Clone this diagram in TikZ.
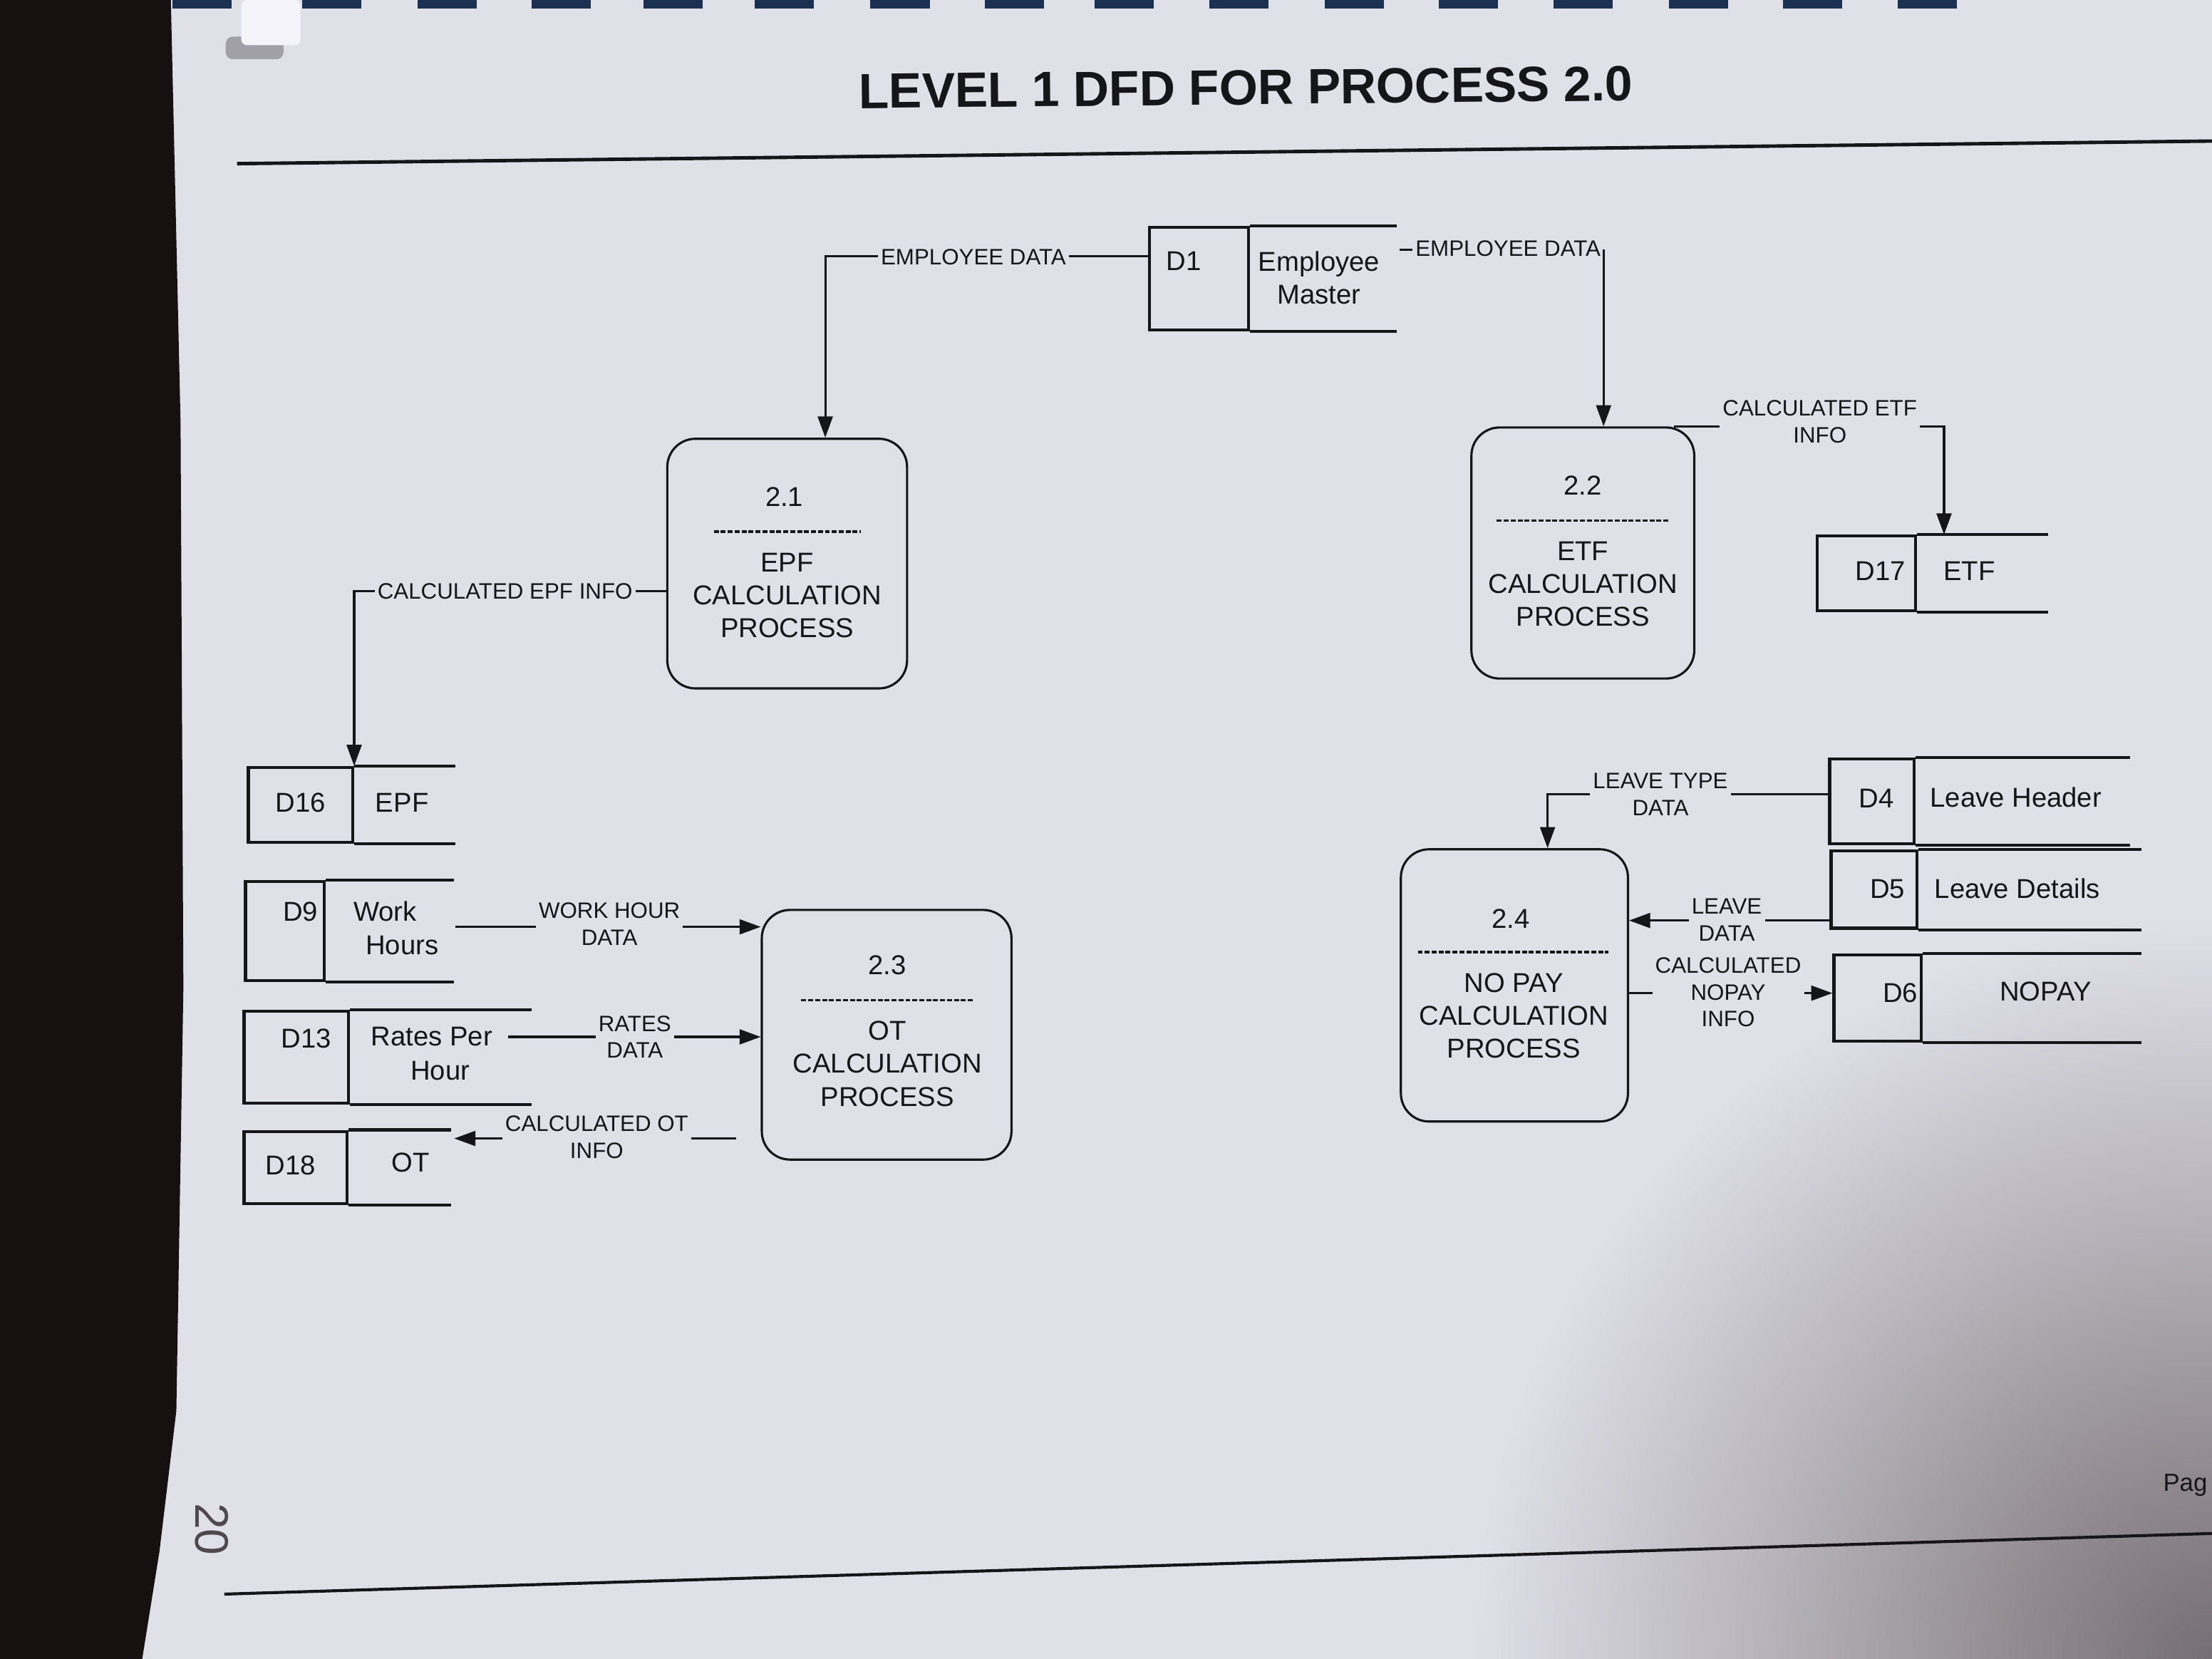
\documentclass[tikz,border=0pt]{standalone}
\usepackage{fontspec}
\setmainfont{Liberation Sans}
\usetikzlibrary{arrows.meta}
\definecolor{pagecol}{RGB}{224,224,232}
\definecolor{shadecol}{RGB}{118,110,114}
\definecolor{deskcol}{RGB}{22,16,16}
\definecolor{ringcol}{RGB}{28,48,82}
\definecolor{inkcol}{RGB}{22,22,26}
\definecolor{pencil}{RGB}{80,72,80}
\definecolor{tabcol}{RGB}{244,244,250}
\definecolor{tabshadow}{RGB}{120,116,124}
\begin{document}
\begin{tikzpicture}[x=0.02cm,y=-0.02cm,
  proc/.style={draw=inkcol, line width=0.9pt, rounded corners=0.4cm, inner sep=0pt},
  store/.style={draw=inkcol, line width=1.2pt, inner sep=0pt},
  storeline/.style={draw=inkcol, line width=1.2pt},
  flowline/.style={draw=inkcol, line width=0.9pt},
  flowarrow/.style={flowline, -{Triangle[length=0.3cm,width=0.21cm]}},
  lbl/.style={font=\fontsize{9}{10.8}\selectfont, align=center, inner sep=1pt, text=inkcol},
  ptext/.style={font=\fontsize{11}{13.3}\selectfont, align=center, inner sep=0pt, text=inkcol},
  stext/.style={font=\fontsize{11}{13.2}\selectfont, align=center, inner sep=0pt, text=inkcol},
  dashsep/.style={draw=inkcol, line width=1.1pt, dash pattern=on 2pt off 0.8pt},
  ruleline/.style={draw=inkcol, line width=1.4pt}]
\useasboundingbox (0,0) rectangle (1568,1176);
% ---------- page and background ----------
\fill[pagecol] (0,0) rectangle (1568,1176);
\begin{scope}
  \clip (0,0) rectangle (1568,1176);
  \shade[inner color=shadecol, outer color=pagecol] (1568,1176) circle (10.5cm);
\end{scope}
\fill[deskcol] (0,-5) -- (121,-5) -- (128,300) -- (130,700) -- (125,1000) -- (113,1100) -- (100,1181) -- (0,1181) -- cycle;
\foreach \x in {122,214,296,377,456,535,617,698,776,857,939,1020,1101,1183,1264,1345}
  \fill[ringcol] (\x,0) rectangle ++(42,6);
\fill[tabshadow, opacity=0.6, rounded corners=0.1cm] (160,26) rectangle (201,42);
\fill[tabcol, rounded corners=0.08cm] (171,0) rectangle (213,32);
% ---------- title and rules ----------
\node[font=\fontsize{20}{24}\selectfont\bfseries, text=inkcol, rotate=0.6] (title) at (883,62) {LEVEL 1 DFD FOR PROCESS 2.0};
\draw[ruleline] (168,116) -- (1568,100);
\draw[ruleline, line width=1.2pt] (159,1130) -- (1568,1087);
\node[anchor=east, font=\fontsize{10}{12}\selectfont, text=inkcol, inner sep=0pt] (pag) at (1565,1053) {Pag};
\node[rotate=-90, font=\fontsize{19}{22}\selectfont, text=pencil] (pnum) at (150,1084) {20};
% ---------- processes ----------
\node[proc, minimum width=3.4cm, minimum height=3.54cm] (p1) at (558,399.5) {};
\node[ptext] (p1n) at (556,352) {2.1};
\draw[dashsep] (506,377) -- (610,377);
\node[ptext] (p1t) at (558,422) {EPF\\CALCULATION\\PROCESS};

\node[proc, minimum width=3.16cm, minimum height=3.56cm] (p2) at (1122,392) {};
\node[ptext] (p2n) at (1122,344) {2.2};
\draw[dashsep] (1061,369) -- (1183,369);
\node[ptext] (p2t) at (1122,414) {ETF\\CALCULATION\\PROCESS};

\node[proc, minimum width=3.54cm, minimum height=3.54cm] (p3) at (628.5,733.5) {};
\node[ptext] (p3n) at (629,684) {2.3};
\draw[dashsep] (568,709) -- (690,709);
\node[ptext] (p3t) at (629,754) {OT\\CALCULATION\\PROCESS};

\node[proc, minimum width=3.22cm, minimum height=3.86cm] (p4) at (1073.5,698.5) {};
\node[ptext] (p4n) at (1071,651) {2.4};
\draw[dashsep] (1005,675) -- (1140,675);
\node[ptext] (p4t) at (1073,720) {NO PAY\\CALCULATION\\PROCESS};
% ---------- data stores ----------
\node[store, minimum width=1.4cm, minimum height=1.46cm] (d1) at (850,197.5) {};
\coordinate (d1end) at (990,0);
\draw[storeline] (d1.north east) -- (d1.north east -| d1end);
\draw[storeline] (d1.south east) -- (d1.south east -| d1end);
\node[stext] (d1id) at (839,185) {D1};
\node[stext] (d1name) at (935,197) {Employee\\Master};

\node[store, minimum width=1.4cm, minimum height=1.06cm] (d17) at (1323,406.5) {};
\coordinate (d17end) at (1452,0);
\draw[storeline] (d17.north east) -- (d17.north east -| d17end);
\draw[storeline] (d17.south east) -- (d17.south east -| d17end);
\node[stext] (d17id) at (1333,405) {D17};
\node[stext] (d17name) at (1396,405) {ETF};

\node[store, minimum width=1.48cm, minimum height=1.06cm] (d16) at (213,570.5) {};
\coordinate (d16end) at (323,0);
\draw[storeline] (d16.north east) -- (d16.north east -| d16end);
\draw[storeline] (d16.south east) -- (d16.south east -| d16end);
\node[stext] (d16id) at (213,569) {D16};
\node[stext] (d16name) at (285,569) {EPF};

\node[store, minimum width=1.12cm, minimum height=1.4cm] (d9) at (202,660) {};
\coordinate (d9end) at (322,0);
\draw[storeline] (d9.north east) -- (d9.north east -| d9end);
\draw[storeline] (d9.south east) -- (d9.south east -| d9end);
\node[stext] (d9id) at (213,646) {D9};
\node[stext] (d9namea) at (273,646) {Work};
\node[stext] (d9nameb) at (285,670) {Hours};

\node[store, minimum width=1.48cm, minimum height=1.3cm] (d13) at (210,749.5) {};
\coordinate (d13end) at (377,0);
\draw[storeline] (d13.north east) -- (d13.north east -| d13end);
\draw[storeline] (d13.south east) -- (d13.south east -| d13end);
\node[stext] (d13id) at (217,736) {D13};
\node[stext] (d13namea) at (306,735) {Rates Per};
\node[stext] (d13nameb) at (312,759) {Hour};

\node[store, minimum width=1.46cm, minimum height=1.02cm] (d18) at (209.5,827.5) {};
\coordinate (d18end) at (320,0);
\draw[storeline] (d18.north east) -- (d18.north east -| d18end);
\draw[storeline] (d18.south east) -- (d18.south east -| d18end);
\node[stext] (d18id) at (206,826) {D18};
\node[stext] (d18name) at (291,824) {OT};

\node[store, minimum width=1.2cm, minimum height=1.2cm] (d4) at (1327,568) {};
\coordinate (d4end) at (1510,0);
\draw[storeline] (d4.north east) -- (d4.north east -| d4end);
\draw[storeline] (d4.south east) -- (d4.south east -| d4end);
\node[stext] (d4id) at (1330,566) {D4};
\node[stext] (d4name) at (1429,565) {Leave Header};

\node[store, minimum width=1.22cm, minimum height=1.1cm] (d5) at (1328.5,630.5) {};
\coordinate (d5end) at (1518,0);
\draw[storeline] (d5.north east) -- (d5.north east -| d5end);
\draw[storeline] (d5.south east) -- (d5.south east -| d5end);
\node[stext] (d5id) at (1338,630) {D5};
\node[stext] (d5name) at (1430,630) {Leave Details};

\node[store, minimum width=1.24cm, minimum height=1.22cm] (d6) at (1331,707.5) {};
\coordinate (d6end) at (1518,0);
\draw[storeline] (d6.north east) -- (d6.north east -| d6end);
\draw[storeline] (d6.south east) -- (d6.south east -| d6end);
\node[stext] (d6id) at (1347,704) {D6};
\node[stext] (d6name) at (1450,703) {NOPAY};
% ---------- flow labels ----------
\node[lbl] (l1) at (690,182) {EMPLOYEE DATA};
\node[lbl] (l2) at (1069,176) {EMPLOYEE DATA};
\node[lbl] (l3) at (1290,299) {CALCULATED ETF\\INFO};
\node[lbl] (l4) at (358,419) {CALCULATED EPF INFO};
\node[lbl] (l5) at (432,655) {WORK HOUR\\DATA};
\node[lbl] (l6) at (450,735) {RATES\\DATA};
\node[lbl] (l7) at (423,806) {CALCULATED OT\\INFO};
\node[lbl] (l8) at (1177,563) {LEAVE TYPE\\DATA};
\node[lbl] (l9) at (1224,652) {LEAVE\\DATA};
\node[lbl] (l10) at (1225,703.5) {CALCULATED\\NOPAY\\INFO};
% ---------- flows ----------
% D1 -> 2.1
\coordinate (d1w) at ([yshift=0.32cm]d1.west);
\draw[flowline] (d1w) -- (l1.east |- d1w);
\draw[flowarrow] (l1.west |- d1w) -| ([xshift=0.54cm]p1.north);
% D1 -> 2.2
\coordinate (d1r) at (992,177);
\draw[flowline] (d1r) -- (l2.west |- d1r);
\draw[flowarrow] (l2.east |- d1r) -- (l2.east |- p2.north);
% 2.2 -> D17
\coordinate (p2c) at ([xshift=-0.3cm]p2.north east);
\draw[flowline] (p2c) -- (l3.west |- p2c);
\draw[flowarrow] (l3.east |- p2c) -| ([xshift=0.38cm]d17.north east);
% 2.1 -> D16
\coordinate (p1w) at ([yshift=-0.39cm]p1.west);
\draw[flowline] (p1w) -- (l4.east |- p1w);
\draw[flowarrow] (l4.west |- p1w) -| (d16.north east);
% D9 -> 2.3
\coordinate (d9o) at (323,657);
\draw[flowline] (d9o) -- (l5.west |- d9o);
\draw[flowarrow] (l5.east |- d9o) -- (p3.west |- d9o);
% D13 -> 2.3
\coordinate (d13o) at (360,735);
\draw[flowline] (d13o) -- (l6.west |- d13o);
\draw[flowarrow] (l6.east |- d13o) -- (p3.west |- d13o);
% 2.3 -> D18
\coordinate (p3o) at (522,807);
\coordinate (d18o) at (322,807);
\draw[flowline] (p3o) -- (l7.east |- p3o);
\draw[flowarrow] (l7.west |- p3o) -- (d18o);
% D4 -> 2.4
\coordinate (d4w) at ([yshift=0.1cm]d4.west);
\draw[flowline] (d4w) -- (l8.east |- d4w);
\draw[flowarrow] (l8.west |- d4w) -| ([xshift=0.47cm]p4.north);
% D5 -> 2.4
\coordinate (d5w) at ([yshift=-0.44cm]d5.west);
\draw[flowline] (d5w) -- (l9.east |- d5w);
\draw[flowarrow] (l9.west |- d5w) -- (p4.east |- d5w);
% 2.4 -> D6
\coordinate (p4e) at ([yshift=-0.11cm]p4.east);
\draw[flowline] (p4e) -- (l10.west |- p4e);
\draw[flowarrow] (l10.east |- p4e) -- (d6.west |- p4e);
\end{tikzpicture}
\end{document}
